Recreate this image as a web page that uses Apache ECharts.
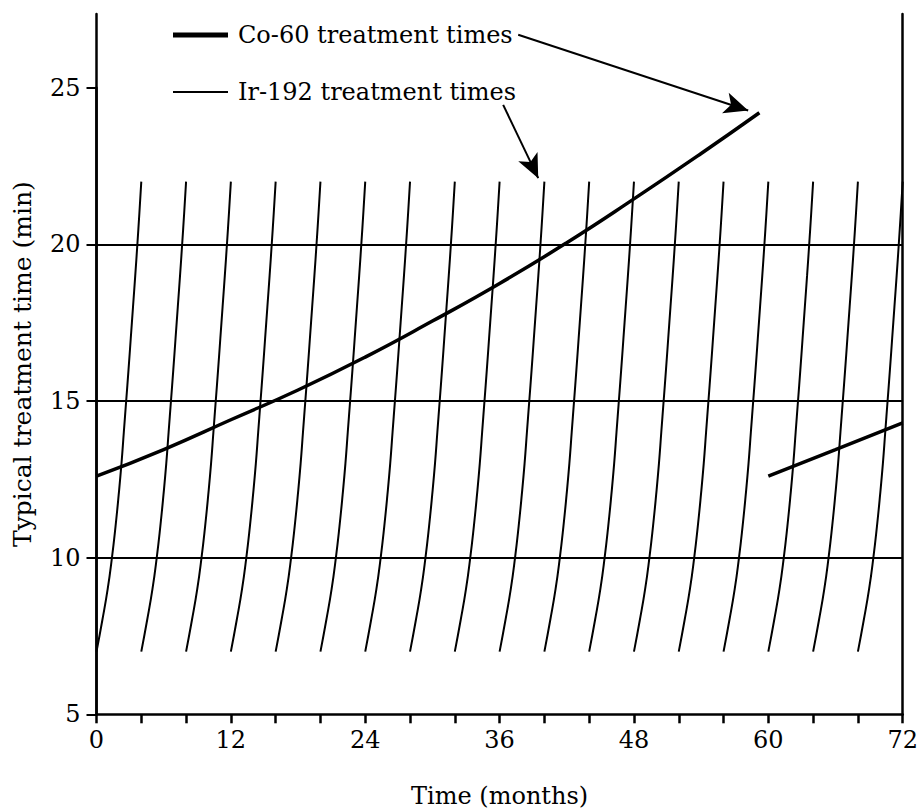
<!DOCTYPE html>
<html>
<head>
<meta charset="utf-8">
<script src="https://cdn.jsdelivr.net/npm/echarts@6/dist/echarts.min.js"></script>
<style>
html,body{margin:0;padding:0;background:#fff;}
#chart{width:919px;height:809px;}
</style>
</head>
<body>
<div id="chart"></div>
<script>
// ---- data ----
var xLabelValues = [0, 12, 24, 36, 48, 60, 72];
var yTickValues = [5, 10, 15, 20, 25];
var gridValues = [10, 15, 20];

// Ir-192: each source is replaced every 4 months; one decay curve per source
var irStarts = [0, 4, 8, 12, 16, 20, 24, 28, 32, 36, 40, 44, 48, 52, 56, 60, 64, 68];
// shape of one Ir-192 curve: months after replacement -> treatment time (min)
var irShapeDx = [0, 0.52, 1.0, 1.38, 1.7, 1.98, 2.23, 2.44, 2.65, 2.86, 3.06, 3.26, 3.46, 3.65, 3.83, 4.0];
var irShapeY  = [7, 8, 9, 10, 11, 12, 13, 14, 15, 16, 17, 18, 19, 20, 21, 22];

// Co-60 treatment times (months, min): first source and replacement at 60 months
var coFirstX = [0, 6, 12, 18, 24, 30, 36, 42, 48, 54, 59.2];
var coFirstY = [12.6, 13.45, 14.4, 15.35, 16.4, 17.55, 18.75, 20.05, 21.45, 22.9, 24.2];
var coSecondX = [60, 66, 72];
var coSecondY = [12.6, 13.45, 14.3];

// annotation arrows (data coordinates): tail and tip
var coArrow = [[37.66, 26.69], [58.2, 24.27]];
var irArrow = [[36.32, 24.45], [39.45, 22.11]];

var CO_NAME = 'Co-60 treatment times';
var IR_NAME = 'Ir-192 treatment times';
var FONT = 'DejaVu Serif';
var Y_MIN = 5, Y_MAX = 27.35;

function zip(xs, ys) { return xs.map(function (x, i) { return [x, ys[i]]; }); }

var series = [];
irStarts.forEach(function (s) {
  series.push({
    name: IR_NAME, type: 'line', smooth: 0.5, symbol: 'none', silent: true,
    lineStyle: { color: '#000', width: 2 },
    data: irShapeDx.map(function (dx, i) { return [s + dx, irShapeY[i]]; })
  });
});
series.push({
  name: CO_NAME, type: 'line', smooth: 0.5, symbol: 'none', silent: true,
  lineStyle: { color: '#000', width: 3.5 },
  data: zip(coFirstX, coFirstY),
  markLine: {
    silent: true, symbol: ['none', 'arrow'], symbolSize: [16, 24],
    label: { show: false },
    lineStyle: { color: '#000', width: 2, type: 'solid' },
    data: [
      [{ coord: coArrow[0] }, { coord: coArrow[1] }],
      [{ coord: irArrow[0] }, { coord: irArrow[1] }]
    ]
  }
});
series.push({
  name: CO_NAME, type: 'line', smooth: 0.5, symbol: 'none', silent: true,
  lineStyle: { color: '#000', width: 3.5 },
  data: zip(coSecondX, coSecondY)
});
series.push({
  type: 'line', silent: true, symbol: 'none', data: [],
  markLine: {
    silent: true, symbol: 'none', label: { show: false },
    lineStyle: { color: '#000', width: 2, type: 'solid' },
    data: gridValues.map(function (v) { return { yAxis: v }; })
  }
});

// second grid spans exactly the labelled range (5..25) and only carries ticks/labels
var plotTop = 14, plotBottom = 94.7, plotH = 809 - plotTop - plotBottom;
var tickTop = plotTop + plotH * (Y_MAX - yTickValues[yTickValues.length - 1]) / (Y_MAX - Y_MIN);

var chart = echarts.init(document.getElementById('chart'), null, { renderer: 'svg' });
chart.setOption({
  animation: false,
  backgroundColor: '#fff',
  textStyle: { fontFamily: FONT, color: '#000' },
  grid: [
    { left: 96.5, right: 16.3, top: plotTop, bottom: plotBottom, containLabel: false, outerBoundsMode: 'none' },
    { left: 96.5, right: 16.3, top: tickTop, bottom: plotBottom, containLabel: false, outerBoundsMode: 'none' }
  ],
  legend: {
    orient: 'vertical', left: 173, top: 21, padding: 0, itemGap: 29,
    itemWidth: 55, itemHeight: 14, symbolKeepAspect: true,
    itemStyle: { borderWidth: 0, color: '#000' },
    textStyle: { fontFamily: FONT, fontSize: 24, color: '#000', lineHeight: 28, padding: [0, 0, 0, 5] },
    data: [
      { name: CO_NAME, icon: 'path://M0 0H55V5H0Z' },
      { name: IR_NAME, icon: 'path://M0 0H55V2H0Z' }
    ]
  },
  xAxis: [{
    type: 'value', min: 0, max: 72, interval: 4, gridIndex: 0,
    name: 'Time (months)', nameLocation: 'middle', nameGap: 70,
    nameTextStyle: { fontFamily: FONT, fontSize: 24, color: '#000' },
    axisLine: { lineStyle: { color: '#000', width: 2.5 } },
    axisTick: { show: true, inside: false, length: 9, lineStyle: { color: '#000', width: 2.5 } },
    axisLabel: {
      margin: 14, fontFamily: FONT, fontSize: 24, color: '#000',
      formatter: function (v) { return xLabelValues.indexOf(v) >= 0 ? String(v) : ''; }
    },
    splitLine: { show: false }
  }, {
    type: 'value', min: 0, max: 72, gridIndex: 1, show: false
  }],
  yAxis: [{
    type: 'value', min: Y_MIN, max: Y_MAX, gridIndex: 0,
    name: 'Typical treatment time (min)', nameLocation: 'middle', nameGap: 62,
    nameTextStyle: { fontFamily: FONT, fontSize: 25, color: '#000' },
    axisLine: { show: true, lineStyle: { color: '#000', width: 2.5 } },
    axisTick: { show: false }, axisLabel: { show: false }, splitLine: { show: false }
  }, {
    type: 'value', min: Y_MIN, max: Y_MAX, position: 'right', gridIndex: 0,
    axisLine: { show: true, lineStyle: { color: '#000', width: 2.5 } },
    axisTick: { show: false }, axisLabel: { show: false }, splitLine: { show: false }
  }, {
    type: 'value', min: yTickValues[0], max: yTickValues[yTickValues.length - 1], interval: 5, gridIndex: 1,
    axisLine: { show: true, lineStyle: { color: '#000', width: 2.5 } },
    axisTick: { show: true, inside: false, length: 10, lineStyle: { color: '#000', width: 2 } },
    axisLabel: { margin: 16, fontFamily: FONT, fontSize: 24, color: '#000' },
    splitLine: { show: false }
  }],
  series: series
});
</script>
</body>
</html>
